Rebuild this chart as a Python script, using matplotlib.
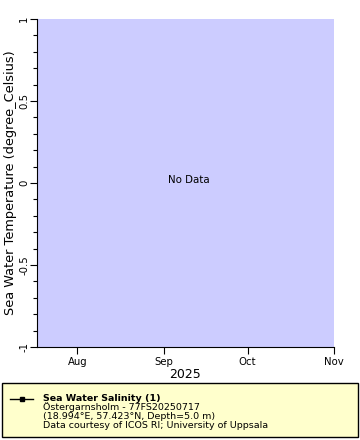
import datetime
import matplotlib
matplotlib.use('Agg')
import matplotlib.pyplot as plt
import matplotlib.dates as md
from matplotlib.patches import Rectangle
from matplotlib.ticker import MultipleLocator

# data (station reported none in this window)
times = []
values = []
t_start = datetime.datetime(2025, 7, 17, 12)
t_stop = datetime.datetime(2025, 11, 1)
y_ticks = [-1, -0.5, 0, 0.5, 1]
y_labels = ['-1', '-0.5', '0', '0.5', '1']
series_name = 'Sea Water Salinity (1)'
legend_lines = ['\u00d6stergarnsholm - 77FS20250717',
                '(18.994\u00b0E, 57.423\u00b0N, Depth=5.0 m)',
                'Data courtesy of ICOS RI; University of Uppsala']

plt.rcParams['font.family'] = ['DejaVu Sans']
fig = plt.figure(figsize=(3.6, 4.4), dpi=100)
ax = fig.add_axes([37/360, 1-347/440, 297/360, 328/440])
ax.set_facecolor('#ccccff')
ax.plot(times, values, '-s', color='black', ms=4)
ax.set_xlim(t_start, t_stop)
ax.set_ylim(-1, 1)
ax.xaxis.set_major_locator(md.MonthLocator())
ax.xaxis.set_major_formatter(md.DateFormatter('%b'))
ax.set_yticks(y_ticks)
ax.set_yticklabels(y_labels, rotation=90, va='center')
ax.yaxis.set_minor_locator(MultipleLocator(0.1))
ax.tick_params(axis='both', which='major', length=5, labelsize=7.3, width=0.8, pad=2)
ax.tick_params(axis='y', which='major', pad=0.5)
ax.tick_params(axis='y', which='minor', length=3, width=0.8)
for s in ['top', 'right']:
    ax.spines[s].set_visible(False)
ax.set_ylabel('Sea Water Temperature (degree_Celsius)', fontsize=9.3)
ax.yaxis.set_label_coords(-0.068, 0.5)
ax.set_xlabel('2025', fontsize=9, labelpad=1)
ax.text(0.51, 0.51, 'No Data', transform=ax.transAxes, ha='center', va='center', fontsize=7.4)

# legend box
fig.patches.append(Rectangle((2/360, 3/440), 356/360, 54/440, transform=fig.transFigure,
                             facecolor='#ffffcc', edgecolor='black', lw=1))
fig.add_artist(plt.Line2D([10/360, 33/360], [1-399/440, 1-399/440], color='black', lw=1))
fig.add_artist(plt.Line2D([21.5/360], [1-399/440], color='black', marker='s', ms=3.5))
fig.text(43/360, 1-398/440, series_name, fontsize=6.8, fontweight='bold', va='center')
for i, line in enumerate(legend_lines):
    fig.text(43/360, 1-(407.5+9*i)/440, line, fontsize=6.8, va='center')

fig.savefig('out.png', dpi=100)
